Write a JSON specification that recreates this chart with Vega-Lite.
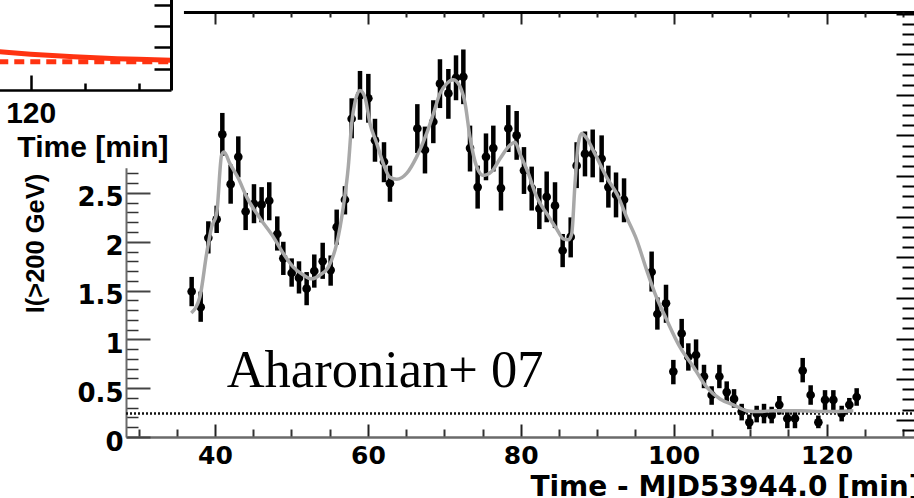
{
  "$schema": "https://vega.github.io/schema/vega-lite/v6.json",
  "width": 788,
  "height": 425,
  "autosize": {"type": "none"},
  "padding": {"left": 126, "top": 12, "right": 0, "bottom": 61},
  "background": "white",
  "config": {
    "view": {"stroke": null},
    "axis": {"grid": false, "zindex": 0, "labelColor": "#000", "titleColor": "#000"}
  },
  "datasets": {
    "flux": [
      {"t": 36.95, "v": 1.49, "lo": 1.34, "hi": 1.64},
      {"t": 38.13, "v": 1.33, "lo": 1.18, "hi": 1.49},
      {"t": 39.13, "v": 2.04, "lo": 1.88, "hi": 2.21},
      {"t": 40.22, "v": 2.23, "lo": 2.09, "hi": 2.37},
      {"t": 40.96, "v": 3.10, "lo": 2.88, "hi": 3.32},
      {"t": 42.05, "v": 2.59, "lo": 2.39, "hi": 2.79},
      {"t": 43.05, "v": 2.87, "lo": 2.66, "hi": 3.08},
      {"t": 44.01, "v": 2.31, "lo": 2.12, "hi": 2.50},
      {"t": 45.10, "v": 2.39, "lo": 2.19, "hi": 2.59},
      {"t": 46.10, "v": 2.38, "lo": 2.20, "hi": 2.56},
      {"t": 47.10, "v": 2.42, "lo": 2.22, "hi": 2.61},
      {"t": 48.15, "v": 2.08, "lo": 1.91, "hi": 2.26},
      {"t": 48.94, "v": 1.83, "lo": 1.66, "hi": 2.00},
      {"t": 50.03, "v": 1.68, "lo": 1.54, "hi": 1.83},
      {"t": 50.99, "v": 1.63, "lo": 1.47, "hi": 1.80},
      {"t": 51.99, "v": 1.52, "lo": 1.35, "hi": 1.69},
      {"t": 52.99, "v": 1.70, "lo": 1.53, "hi": 1.87},
      {"t": 54.09, "v": 1.80, "lo": 1.62, "hi": 1.99},
      {"t": 55.13, "v": 1.71, "lo": 1.55, "hi": 1.86},
      {"t": 55.92, "v": 2.15, "lo": 1.97, "hi": 2.33},
      {"t": 57.00, "v": 2.43, "lo": 2.28, "hi": 2.57},
      {"t": 57.88, "v": 3.26, "lo": 3.06, "hi": 3.47},
      {"t": 58.97, "v": 3.50, "lo": 3.25, "hi": 3.75},
      {"t": 60.06, "v": 3.47, "lo": 3.22, "hi": 3.72},
      {"t": 60.93, "v": 3.04, "lo": 2.82, "hi": 3.26},
      {"t": 62.11, "v": 2.82, "lo": 2.61, "hi": 3.02},
      {"t": 62.89, "v": 2.60, "lo": 2.41, "hi": 2.78},
      {"t": 66.47, "v": 3.16, "lo": 2.91, "hi": 3.41},
      {"t": 67.47, "v": 2.94, "lo": 2.70, "hi": 3.18},
      {"t": 68.56, "v": 3.23, "lo": 3.01, "hi": 3.45},
      {"t": 69.43, "v": 3.62, "lo": 3.37, "hi": 3.87},
      {"t": 70.53, "v": 3.52, "lo": 3.26, "hi": 3.77},
      {"t": 71.53, "v": 3.68, "lo": 3.45, "hi": 3.91},
      {"t": 72.49, "v": 3.69, "lo": 3.41, "hi": 3.97},
      {"t": 73.36, "v": 2.96, "lo": 2.72, "hi": 3.19},
      {"t": 74.36, "v": 2.56, "lo": 2.34, "hi": 2.78},
      {"t": 75.45, "v": 2.87, "lo": 2.63, "hi": 3.11},
      {"t": 76.41, "v": 2.96, "lo": 2.72, "hi": 3.19},
      {"t": 77.41, "v": 2.55, "lo": 2.32, "hi": 2.77},
      {"t": 78.37, "v": 3.16, "lo": 2.92, "hi": 3.40},
      {"t": 79.46, "v": 3.09, "lo": 2.84, "hi": 3.34},
      {"t": 80.42, "v": 2.73, "lo": 2.49, "hi": 2.97},
      {"t": 81.43, "v": 2.55, "lo": 2.32, "hi": 2.77},
      {"t": 82.43, "v": 2.34, "lo": 2.13, "hi": 2.55},
      {"t": 83.39, "v": 2.46, "lo": 2.20, "hi": 2.72},
      {"t": 84.48, "v": 2.37, "lo": 2.14, "hi": 2.61},
      {"t": 85.48, "v": 1.91, "lo": 1.74, "hi": 2.08},
      {"t": 86.53, "v": 2.05, "lo": 1.84, "hi": 2.25},
      {"t": 87.31, "v": 2.78, "lo": 2.55, "hi": 3.02},
      {"t": 88.40, "v": 2.90, "lo": 2.67, "hi": 3.13},
      {"t": 89.41, "v": 2.90, "lo": 2.66, "hi": 3.15},
      {"t": 90.58, "v": 2.85, "lo": 2.61, "hi": 3.09},
      {"t": 91.46, "v": 2.56, "lo": 2.35, "hi": 2.78},
      {"t": 92.46, "v": 2.48, "lo": 2.25, "hi": 2.71},
      {"t": 93.51, "v": 2.43, "lo": 2.20, "hi": 2.65},
      {"t": 97.12, "v": 1.69, "lo": 1.49, "hi": 1.90},
      {"t": 97.87, "v": 1.26, "lo": 1.10, "hi": 1.43},
      {"t": 99.00, "v": 1.37, "lo": 1.17, "hi": 1.56},
      {"t": 99.96, "v": 0.67, "lo": 0.54, "hi": 0.79},
      {"t": 101.05, "v": 1.06, "lo": 0.91, "hi": 1.21},
      {"t": 101.92, "v": 0.82, "lo": 0.68, "hi": 0.96},
      {"t": 102.93, "v": 0.84, "lo": 0.68, "hi": 1.00},
      {"t": 103.97, "v": 0.62, "lo": 0.50, "hi": 0.74},
      {"t": 104.97, "v": 0.43, "lo": 0.33, "hi": 0.52},
      {"t": 105.98, "v": 0.62, "lo": 0.50, "hi": 0.74},
      {"t": 106.94, "v": 0.46, "lo": 0.35, "hi": 0.57},
      {"t": 107.90, "v": 0.39, "lo": 0.30, "hi": 0.49},
      {"t": 108.90, "v": 0.26, "lo": 0.17, "hi": 0.34},
      {"t": 109.90, "v": 0.15, "lo": 0.08, "hi": 0.23},
      {"t": 110.86, "v": 0.24, "lo": 0.15, "hi": 0.32},
      {"t": 111.82, "v": 0.24, "lo": 0.14, "hi": 0.34},
      {"t": 112.82, "v": 0.22, "lo": 0.14, "hi": 0.31},
      {"t": 113.82, "v": 0.33, "lo": 0.23, "hi": 0.42},
      {"t": 114.87, "v": 0.19, "lo": 0.09, "hi": 0.28},
      {"t": 115.87, "v": 0.19, "lo": 0.09, "hi": 0.28},
      {"t": 116.88, "v": 0.68, "lo": 0.56, "hi": 0.81},
      {"t": 117.92, "v": 0.43, "lo": 0.33, "hi": 0.53},
      {"t": 118.93, "v": 0.15, "lo": 0.09, "hi": 0.22},
      {"t": 119.80, "v": 0.38, "lo": 0.27, "hi": 0.48},
      {"t": 120.89, "v": 0.38, "lo": 0.27, "hi": 0.48},
      {"t": 121.98, "v": 0.24, "lo": 0.16, "hi": 0.32},
      {"t": 122.98, "v": 0.33, "lo": 0.25, "hi": 0.40},
      {"t": 123.94, "v": 0.41, "lo": 0.32, "hi": 0.50}
    ],
    "model": [
      {"t": 36.9, "v": 1.27}, {"t": 38.04, "v": 1.44}, {"t": 38.91, "v": 1.88},
      {"t": 39.56, "v": 2.15}, {"t": 40.22, "v": 2.29}, {"t": 40.87, "v": 2.89},
      {"t": 41.18, "v": 2.92}, {"t": 41.96, "v": 2.80}, {"t": 43.05, "v": 2.65},
      {"t": 44.14, "v": 2.46}, {"t": 45.89, "v": 2.24}, {"t": 47.63, "v": 2.05},
      {"t": 48.94, "v": 1.88}, {"t": 50.25, "v": 1.74}, {"t": 51.56, "v": 1.66},
      {"t": 52.65, "v": 1.62}, {"t": 53.74, "v": 1.66}, {"t": 54.83, "v": 1.74},
      {"t": 55.92, "v": 1.98}, {"t": 56.79, "v": 2.36}, {"t": 57.44, "v": 2.77},
      {"t": 57.88, "v": 3.21}, {"t": 58.32, "v": 3.43}, {"t": 58.97, "v": 3.55},
      {"t": 59.62, "v": 3.48}, {"t": 60.28, "v": 3.21}, {"t": 61.15, "v": 3.01},
      {"t": 62.02, "v": 2.80}, {"t": 62.89, "v": 2.66}, {"t": 63.77, "v": 2.64},
      {"t": 65.07, "v": 2.70}, {"t": 66.38, "v": 2.87}, {"t": 67.69, "v": 3.11},
      {"t": 68.56, "v": 3.31}, {"t": 69.43, "v": 3.52}, {"t": 70.31, "v": 3.62},
      {"t": 71.18, "v": 3.66}, {"t": 72.05, "v": 3.59}, {"t": 72.71, "v": 3.42},
      {"t": 73.36, "v": 3.07}, {"t": 74.23, "v": 2.77}, {"t": 75.10, "v": 2.68},
      {"t": 76.19, "v": 2.72}, {"t": 77.28, "v": 2.85}, {"t": 78.59, "v": 2.99},
      {"t": 79.25, "v": 3.02}, {"t": 79.90, "v": 2.90}, {"t": 80.99, "v": 2.70},
      {"t": 82.08, "v": 2.46}, {"t": 83.39, "v": 2.29}, {"t": 84.70, "v": 2.13},
      {"t": 85.57, "v": 2.03}, {"t": 86.23, "v": 2.02}, {"t": 86.66, "v": 2.08},
      {"t": 87.10, "v": 2.60}, {"t": 87.53, "v": 3.01}, {"t": 87.97, "v": 3.11},
      {"t": 88.62, "v": 3.06}, {"t": 89.71, "v": 2.90}, {"t": 91.24, "v": 2.66},
      {"t": 92.77, "v": 2.46}, {"t": 93.86, "v": 2.25}, {"t": 95.16, "v": 2.02},
      {"t": 96.47, "v": 1.71}, {"t": 97.56, "v": 1.47}, {"t": 99.09, "v": 1.20},
      {"t": 100.83, "v": 0.92}, {"t": 102.58, "v": 0.72}, {"t": 104.32, "v": 0.51},
      {"t": 106.07, "v": 0.39}, {"t": 107.81, "v": 0.33}, {"t": 109.56, "v": 0.27},
      {"t": 111.30, "v": 0.26}, {"t": 113.04, "v": 0.27}, {"t": 116.53, "v": 0.27},
      {"t": 120.02, "v": 0.26}, {"t": 123.51, "v": 0.27}
    ],
    "insetModel": [
      {"t": 116.5, "f": 1.83}, {"t": 118, "f": 1.76}, {"t": 120, "f": 1.68},
      {"t": 122, "f": 1.62}, {"t": 124, "f": 1.565}, {"t": 126, "f": 1.51},
      {"t": 128, "f": 1.47}, {"t": 130, "f": 1.44}, {"t": 133, "f": 1.40}
    ],
    "insetLevel": [
      {"t": 117, "f": 1.33}, {"t": 133, "f": 1.33}
    ]
  },
  "resolve": {"scale": {"x": "independent", "y": "independent"}},
  "layer": [
    {
      "data": {"values": [{"crab": 0.24}]},
      "mark": {"type": "rule", "strokeDash": [2, 2], "strokeWidth": 2.5, "color": "#111"},
      "encoding": {
        "x": {"datum": 28.36, "type": "quantitative",
              "scale": {"domain": [28.36, 131.44], "nice": false, "zero": false},
              "axis": {"orient": "bottom", "values": [30, 35, 45, 50, 55, 65, 70, 75, 85, 90, 95, 105, 110, 115, 125, 130],
                       "tickSize": -8, "tickWidth": 2, "tickColor": "#333", "labels": false, "domain": false, "title": null}},
        "x2": {"datum": 131.44},
        "y": {"field": "crab", "type": "quantitative",
              "scale": {"domain": [0, 4.354], "nice": false, "zero": false},
              "axis": {"orient": "left", "values": [0.1, 0.2, 0.3, 0.4, 0.6, 0.7, 0.8, 0.9, 1.1, 1.2, 1.3, 1.4, 1.6, 1.7, 1.8, 1.9, 2.1, 2.2, 2.3, 2.4, 2.6, 2.7, 2.8, 2.9, 3.1, 3.2, 3.3, 3.4, 3.6, 3.7, 3.8, 3.9, 4.1, 4.2, 4.3],
                       "tickSize": -12, "tickWidth": 1.5, "tickColor": "#333", "labels": false, "domain": false, "title": null}}
      }
    },
    {
      "data": {"name": "flux"},
      "mark": {"type": "rule", "strokeWidth": 4.5, "color": "#000"},
      "encoding": {
        "x": {"field": "t", "type": "quantitative",
              "scale": {"domain": [28.36, 131.44], "nice": false, "zero": false},
              "axis": {"orient": "top", "values": [40, 60, 80, 100, 120], "tickSize": -12, "tickWidth": 2, "tickColor": "#222",
                       "labels": false, "domain": true, "domainColor": "#000", "domainWidth": 3, "title": null}},
        "y": {"field": "lo", "type": "quantitative",
              "scale": {"domain": [0, 4.354], "nice": false, "zero": false},
              "axis": {"orient": "right", "values": [0.177, 0.593, 1.009, 1.425, 1.841, 2.257, 2.673, 3.089, 3.505, 3.921, 4.337],
                       "tickSize": -18, "tickWidth": 2, "tickColor": "#000", "labels": false, "domain": false, "title": null}},
        "y2": {"field": "hi"}
      }
    },
    {
      "data": {"name": "flux"},
      "mark": {"type": "circle", "size": 75, "opacity": 1, "color": "#000"},
      "encoding": {
        "x": {"field": "t", "type": "quantitative",
              "scale": {"domain": [28.36, 131.44], "nice": false, "zero": false},
              "axis": {"orient": "top", "values": [30, 35, 45, 50, 55, 65, 70, 75, 85, 90, 95, 105, 110, 115, 125, 130],
                       "tickSize": -5, "tickWidth": 2, "tickColor": "#222", "labels": false, "domain": false, "title": null}},
        "y": {"field": "v", "type": "quantitative",
              "scale": {"domain": [0, 4.354], "nice": false, "zero": false},
              "axis": {"orient": "right", "values": [0.073, 0.281, 0.385, 0.489, 0.697, 0.801, 0.905, 1.113, 1.217, 1.321, 1.529, 1.633, 1.737, 1.945, 2.049, 2.153, 2.361, 2.465, 2.569, 2.777, 2.881, 2.985, 3.193, 3.297, 3.401, 3.609, 3.713, 3.817, 4.025, 4.129, 4.233],
                       "tickSize": -12, "tickWidth": 2, "tickColor": "#000", "labels": false, "domain": false, "title": null}}
      }
    },
    {
      "data": {"name": "model"},
      "mark": {"type": "line", "interpolate": "monotone", "color": "#a8a8a8", "strokeWidth": 3.5},
      "encoding": {
        "x": {"field": "t", "type": "quantitative",
              "scale": {"domain": [28.36, 131.44], "nice": false, "zero": false},
              "axis": {"orient": "bottom", "values": [40, 60, 80, 100, 120], "format": ".0f",
                       "tickSize": -13, "tickWidth": 2, "tickColor": "#222",
                       "domain": true, "domainColor": "#6a6a6a", "domainWidth": 2.5,
                       "labelFont": "DejaVu Sans", "labelFontWeight": "bold", "labelFontSize": 25,
                       "labelBaseline": "alphabetic", "labelAlign": "center", "labelPadding": 39,
                       "title": "Time - MJD53944.0 [min]", "titleFont": "DejaVu Sans", "titleFontWeight": "bold",
                       "titleFontSize": 28, "titleAlign": "right", "titleBaseline": "alphabetic",
                       "titleX": 795, "titleY": 58}},
        "y": {"field": "v", "type": "quantitative",
              "scale": {"domain": [0, 4.354], "nice": false, "zero": false},
              "axis": {"orient": "left", "values": [0, 0.5, 1, 1.5, 2, 2.5], "format": ".1~f",
                       "tickSize": -24, "tickWidth": 2, "tickColor": "#444",
                       "domain": true, "domainColor": "#6a6a6a", "domainWidth": 2,
                       "labelFont": "DejaVu Sans", "labelFontWeight": "bold", "labelFontSize": 26,
                       "labelBaseline": "alphabetic", "labelOffset": 13, "labelPadding": 27,
                       "title": "I(>200 GeV)", "titleFont": "Liberation Sans", "titleFontWeight": "bold",
                       "titleFontSize": 25.5, "titleAngle": 270, "titleAlign": "center", "titleBaseline": "alphabetic",
                       "titleX": -82.7, "titleY": 231}}
      }
    },
    {
      "data": {"values": [{"label": "Aharonian+ 07"}]},
      "mark": {"type": "text", "font": "Liberation Serif", "fontSize": 52.5, "align": "left", "baseline": "alphabetic", "color": "#000"},
      "encoding": {
        "x": {"datum": 41.53, "type": "quantitative", "scale": {"domain": [28.36, 131.44], "nice": false, "zero": false}, "axis": null},
        "y": {"datum": 0.512, "type": "quantitative", "scale": {"domain": [0, 4.354], "nice": false, "zero": false}, "axis": null},
        "text": {"field": "label"}
      }
    },
    {
      "data": {"values": [{"pad": "inset"}]},
      "mark": {"type": "rect", "fill": "white", "stroke": null},
      "encoding": {
        "x": {"datum": 10, "type": "quantitative", "scale": {"domain": [28.36, 131.44], "nice": false, "zero": false}, "axis": null},
        "x2": {"datum": 35.94},
        "y": {"datum": 2.753, "type": "quantitative", "scale": {"domain": [0, 4.354], "nice": false, "zero": false}, "axis": null},
        "y2": {"datum": 5}
      }
    },
    {
      "data": {"name": "insetModel"},
      "mark": {"type": "line", "color": "#ff3311", "strokeWidth": 5},
      "encoding": {
        "x": {"field": "t", "type": "quantitative",
              "scale": {"domain": [110, 133], "range": [-203.3, 45], "nice": false, "zero": false},
              "axis": {"orient": "bottom", "offset": -347, "zindex": 1, "values": [120], "format": ".0f",
                       "tickSize": -15, "tickWidth": 2.5, "tickColor": "#000",
                       "domain": true, "domainColor": "#000", "domainWidth": 2.5,
                       "labelFont": "Liberation Sans", "labelFontWeight": "bold", "labelFontSize": 30,
                       "labelBaseline": "alphabetic", "labelAlign": "center", "labelPadding": 47, "labelFlush": false,
                       "title": "Time [min]", "titleFont": "Liberation Sans", "titleFontWeight": "bold", "titleFontSize": 30,
                       "titleAlign": "right", "titleBaseline": "alphabetic", "titleX": 42, "titleY": 66}},
        "y": {"field": "f", "type": "quantitative",
              "scale": {"domain": [0, 5], "range": [78, -28.5], "nice": false, "zero": false},
              "axis": {"orient": "right", "offset": -743, "zindex": 1, "values": [1, 2, 3, 4],
                       "tickSize": -17, "tickWidth": 2.5, "tickColor": "#000", "labels": false,
                       "domain": true, "domainColor": "#000", "domainWidth": 3, "title": null}}
      }
    },
    {
      "data": {"name": "insetLevel"},
      "mark": {"type": "line", "color": "#ff3311", "strokeWidth": 5, "strokeDash": [10, 6]},
      "encoding": {
        "x": {"field": "t", "type": "quantitative",
              "scale": {"domain": [110, 133], "range": [-203.3, 45], "nice": false, "zero": false},
              "axis": {"orient": "bottom", "offset": -347, "zindex": 1, "values": [125, 130],
                       "tickSize": -7, "tickWidth": 2.5, "tickColor": "#000", "labels": false, "domain": false, "title": null}},
        "y": {"field": "f", "type": "quantitative",
              "scale": {"domain": [0, 5], "range": [78, -28.5], "nice": false, "zero": false},
              "axis": null}
      }
    }
  ]
}
